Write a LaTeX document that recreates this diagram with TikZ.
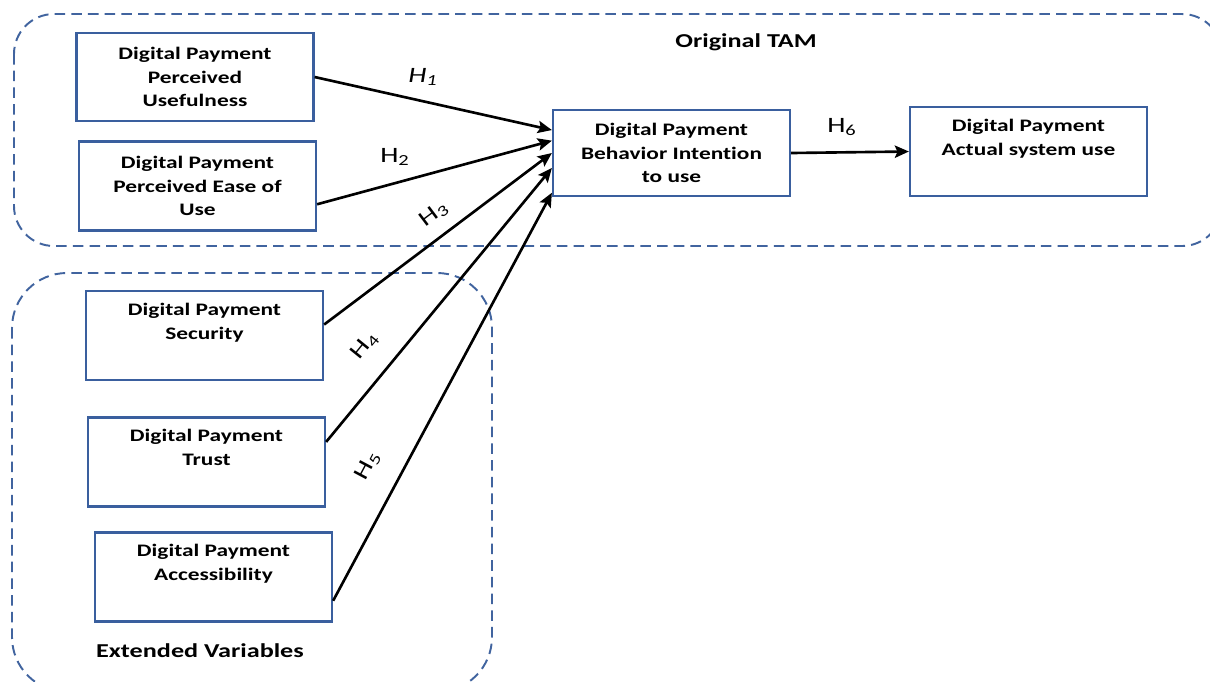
\documentclass[tikz,border=0pt]{standalone}
\usepackage{fontspec}
\setmainfont{Carlito}[FakeStretch=1.33, Ligatures=NoCommon]
\usetikzlibrary{arrows.meta,calc}
\definecolor{boxblue}{HTML}{3A5F9E}
\definecolor{dashblue}{HTML}{41649F}
\newcommand{\dptopbox}[1]{\parbox[c][1.72cm][t]{4.6cm}{\centering\rule{0pt}{13pt}#1}}
\begin{document}
\begin{tikzpicture}[x=0.02cm,y=-0.02cm,
  box/.style={draw=boxblue, line width=1.3pt, inner sep=0pt, align=center,
    font=\fontsize{10}{13.5}\selectfont\bfseries, minimum width=4.74cm, minimum height=1.78cm},
  region/.style={draw=dashblue, line width=1.1pt, dash pattern=on 6pt off 3.5pt},
  arr/.style={line width=1.5pt, -{Stealth[length=8pt,width=7pt,inset=1.5pt]}},
  hlab/.style={font=\fontsize{12.5}{15}\selectfont, inner sep=0pt},
  title/.style={font=\fontsize{11.2}{13}\selectfont\bfseries, inner sep=0pt}]
\useasboundingbox (0,0) rectangle (1210,681);
\begin{scope}
  \clip (0,0) rectangle (1210,681);
  \draw[region, rounded corners=0.8cm] (14,14) rectangle (1222,246);
  \draw[region, rounded corners=1.1cm] (12,273) rectangle (492,692);
\end{scope}
\node[title] (tam) at (746,42) {Original TAM};
\node[title] (ext) at (200,651) {Extended Variables};

\node[box, minimum height=1.76cm] (PU) at (195,77) {Digital Payment\\Perceived\\Usefulness};
\node[box] (PEOU) at (197.5,186) {Digital Payment\\Perceived Ease of\\Use};
\node[box] (SEC) at (204.5,335.5) {\dptopbox{Digital Payment\\Security}};
\node[box] (TRU) at (206.5,462) {\dptopbox{Digital Payment\\Trust}};
\node[box] (ACC) at (213.5,577) {\dptopbox{Digital Payment\\Accessibility}};
\node[box, minimum height=1.72cm] (BI) at (671.5,153) {Digital Payment\\Behavior Intention\\to use};
\node[box] (ASU) at (1028.5,151.5) {\dptopbox{Digital Payment\\Actual system use}};

\draw[arr] (PU.east) -- ($(BI.north west)!0.24!(BI.south west)$);
\draw[arr] ($(PEOU.north east)!0.7!(PEOU.south east)$) -- ($(BI.north west)!0.36!(BI.south west)$);
\draw[arr] ($(SEC.north east)!0.38!(SEC.south east)$) -- ($(BI.north west)!0.5!(BI.south west)$);
\draw[arr] ($(TRU.north east)!0.28!(TRU.south east)$) -- ($(BI.north west)!0.67!(BI.south west)$);
\draw[arr] ($(ACC.north east)!0.76!(ACC.south east)$) -- ($(BI.north west)!0.95!(BI.south west)$);
\draw[arr] (BI.east) -- (ASU.west);

\node[hlab] (h1) at (423,77) {\itshape H\textsubscript{1}};
\node[hlab] (h2) at (395,157) {H\textsubscript{2}};
\node[hlab, rotate=37] (h3) at (434,214) {H\textsubscript{3}};
\node[hlab, rotate=51] (h4) at (365,346) {H\textsubscript{4}};
\node[hlab, rotate=62] (h5) at (368,466) {H\textsubscript{5}};
\node[hlab] (h6) at (842,127) {H\textsubscript{6}};
\end{tikzpicture}
\end{document}
